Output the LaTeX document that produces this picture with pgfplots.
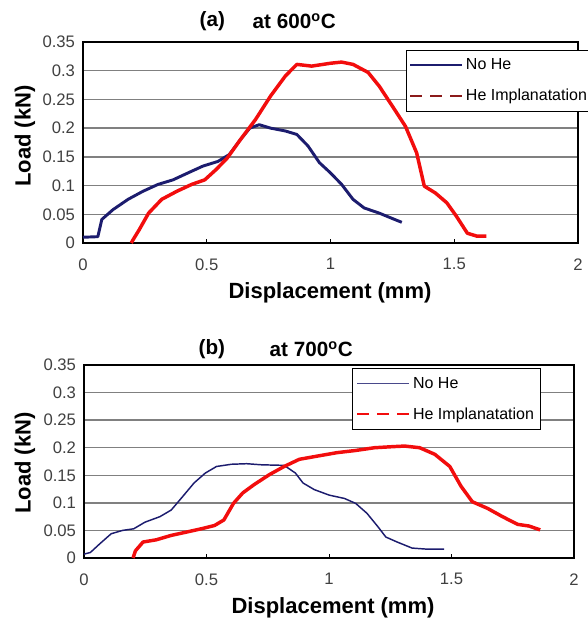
\documentclass[border=0pt]{standalone}
\usepackage{pgfplots}
\pgfplotsset{compat=1.18}
\usepackage{fontspec}
\setmainfont{Liberation Sans}

\definecolor{navy}{HTML}{1C1C6E}
\definecolor{darkred}{HTML}{8B1A1A}
\definecolor{curvered}{HTML}{F20D0D}
\definecolor{gridgray}{HTML}{808080}

\pgfplotsset{
  panel/.style={
    scale only axis,
    anchor=south west,
    xmin=0, xmax=2, ymin=0, ymax=0.35,
    xtick={0,0.5,1,1.5,2},
    xticklabels={0,0.5,1,1.5,2},
    ytick={0,0.05,0.1,0.15,0.2,0.25,0.3,0.35},
    yticklabels={0,0.05,0.1,0.15,0.2,0.25,0.3,0.35},
    ymajorgrids,
    grid style={gridgray, line width=1.1pt},
    axis line style={line width=1.4pt},
    tick label style={font=\fontsize{12.5}{14}\selectfont, text=black!75},
    xticklabel shift=8pt,
    yticklabel shift=2.5pt,
    ytick style={draw=none},
    xtick style={black, line width=0.6pt},
    major tick length=3pt,
    tick pos=left,
    xtick align=inside,
    legend cell align=left,
    legend image code/.code={\draw[#1] (0pt,0pt) -- (39pt,0pt);},
    clip=false,
  },
}

\begin{document}
\begin{tikzpicture}

% ---------------- (a) at 600 C ----------------
\begin{axis}[panel,
    at={(62.25pt,288.75pt)},
    width=371.25pt, height=150.75pt,
    legend style={at={(0.6525,0.962)}, anchor=north west, draw=black,
      line width=0.8pt, font=\fontsize{12}{14}\selectfont,
      row sep=9pt, inner xsep=2pt, inner ysep=4.5pt},
  ]
  \addlegendimage{navy, line width=1.6pt}
  \addlegendentry{No He}
  \addlegendimage{darkred, line width=1.4pt, dash pattern=on 9pt off 6pt}
  \addlegendentry{He Implanatation}

  % No He
  \addplot[navy, line width=2.2pt, line join=round, forget plot] coordinates {
    (0,0.010) (0.06,0.011) (0.076,0.041) (0.121,0.058) (0.182,0.076)
    (0.242,0.090) (0.303,0.102) (0.364,0.110) (0.424,0.122) (0.485,0.134)
    (0.545,0.142) (0.591,0.154) (0.636,0.180) (0.674,0.200) (0.712,0.206)
    (0.758,0.200) (0.818,0.195) (0.864,0.189) (0.909,0.169) (0.955,0.140)
    (1.0,0.122) (1.045,0.102) (1.091,0.076) (1.136,0.061) (1.197,0.052)
    (1.242,0.044) (1.288,0.036)
  };
  % He implantation
  \addplot[curvered, line width=2.6pt, line join=round, forget plot] coordinates {
    (0.195,0) (0.200,0.004) (0.227,0.023) (0.265,0.052) (0.318,0.076)
    (0.379,0.090) (0.439,0.102) (0.492,0.110) (0.538,0.128) (0.583,0.148)
    (0.636,0.180) (0.697,0.215) (0.758,0.256) (0.818,0.291) (0.864,0.311)
    (0.924,0.308) (1.0,0.313) (1.045,0.315) (1.091,0.311) (1.152,0.297)
    (1.197,0.273) (1.258,0.233) (1.303,0.203) (1.348,0.157) (1.379,0.099)
    (1.424,0.087) (1.470,0.070) (1.508,0.047) (1.553,0.017) (1.591,0.012)
    (1.630,0.012)
  };
\end{axis}

% ---------------- (b) at 700 C ----------------
\begin{axis}[panel,
    at={(63pt,52.5pt)},
    width=367.5pt, height=144.75pt,
    legend style={at={(0.547,0.984)}, anchor=north west, draw=black,
      line width=0.8pt, font=\fontsize{12}{14}\selectfont,
      row sep=9pt, inner xsep=3pt, inner ysep=4.5pt},
  ]
  \addlegendimage{navy!80, line width=1pt}
  \addlegendentry{No He}
  \addlegendimage{curvered, line width=1.4pt, dash pattern=on 9pt off 6pt}
  \addlegendentry{He Implanatation}

  % No He
  \addplot[navy, line width=1.1pt, line join=round, forget plot] coordinates {
    (0,0.007) (0.026,0.010) (0.065,0.026) (0.111,0.044) (0.157,0.050)
    (0.203,0.053) (0.249,0.065) (0.310,0.075) (0.356,0.087) (0.402,0.111)
    (0.449,0.136) (0.495,0.154) (0.541,0.166) (0.602,0.170) (0.664,0.171)
    (0.725,0.169) (0.817,0.168) (0.863,0.154) (0.894,0.136) (0.940,0.124)
    (1.001,0.114) (1.063,0.108) (1.109,0.099) (1.155,0.081) (1.201,0.056)
    (1.232,0.038) (1.278,0.029) (1.339,0.018) (1.401,0.016) (1.470,0.016)
  };
  % He implantation
  \addplot[curvered, line width=2.6pt, line join=round, forget plot] coordinates {
    (0.2,0) (0.21,0.013) (0.241,0.029) (0.295,0.033) (0.356,0.041)
    (0.418,0.047) (0.479,0.053) (0.533,0.059) (0.571,0.069) (0.610,0.099)
    (0.648,0.118) (0.694,0.133) (0.756,0.151) (0.817,0.166) (0.879,0.179)
    (0.955,0.185) (1.032,0.191) (1.109,0.195) (1.186,0.200) (1.263,0.202)
    (1.309,0.203) (1.370,0.200) (1.432,0.188) (1.493,0.166) (1.539,0.130)
    (1.585,0.102) (1.647,0.090) (1.708,0.075) (1.770,0.061) (1.816,0.058)
    (1.862,0.051)
  };
\end{axis}

% titles and axis labels (positions in image pixels)
\begin{scope}[x=0.75pt, y=0.75pt]
  \begin{scope}[every node/.style={font=\bfseries\fontsize{15.5}{18}\selectfont}]
    \node[anchor=west] at (195,607) {(a)};
    \node[anchor=west] at (248,607) {at 600\textsuperscript{o}C};
    \node[anchor=west] at (194,279) {(b)};
    \node[anchor=west] at (265,279) {at 700\textsuperscript{o}C};
  \end{scope}
  \begin{scope}[every node/.style={font=\bfseries\fontsize{16.5}{19}\selectfont}]
    \node at (330,335) {Displacement (mm)};
    \node[rotate=90] at (25,492) {Load (kN)};
    \node at (333,20) {Displacement (mm)};
    \node[rotate=90] at (25,165) {Load (kN)};
  \end{scope}
\end{scope}

\pgfresetboundingbox
\path (0,0) rectangle (440.25pt,471pt);
\end{tikzpicture}
\end{document}
